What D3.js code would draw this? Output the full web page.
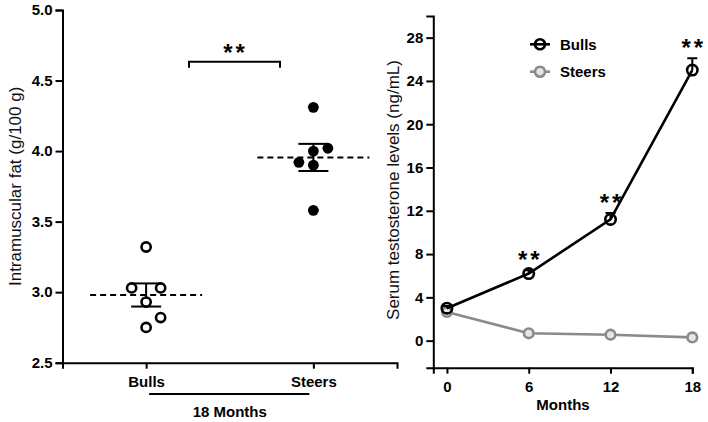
<!DOCTYPE html>
<html lang="en">
<head>
    <meta charset="utf-8">
    <title>Intramuscular fat and serum testosterone</title>
    <script src="https://d3js.org/d3.v7.min.js"></script>
    <style>
        body {
            margin: 0;
            background: #fff;
            font-family: "Liberation Sans", Arial, sans-serif;
        }
        .axis path, .axis line {
            stroke: #000;
            stroke-width: 2px;
        }
        .axis text {
            font-family: "Liberation Sans", Arial, sans-serif;
            font-size: 15px;
            font-weight: bold;
            fill: #000;
        }
        .title {
            font-size: 17px;
            fill: #111;
        }
        .bold {
            font-size: 15px;
            font-weight: bold;
        }
        .star {
            font-size: 24px;
            font-weight: bold;
            letter-spacing: 3px;
        }
    </style>
</head>
<body>
<svg width="708" height="422"></svg>
<script>
    // left panel: intramuscular fat at 18 months
    const groups = ["Bulls", "Steers"];
    const bullsFat = [3.32, 3.03, 3.03, 2.93, 2.82, 2.75];
    const steersFat = [4.31, 4.02, 4.00, 3.92, 3.90, 3.58];
    // horizontal spread of the dots (GraphPad style), in dot widths
    const bullsJitter = [0, -1, 1, 0, 1, 0];
    const steersJitter = [0, 1, 0, -1, 0, 0];
    const fatTicks = [2.5, 3.0, 3.5, 4.0, 4.5, 5.0];

    // right panel: serum testosterone
    const months = [0, 6, 12, 18];
    const bullsT = [3.0, 6.2, 11.2, 25.0];
    const bullsSem = [0.2, 0.3, 0.6, 1.1];
    const steersT = [2.65, 0.68, 0.55, 0.3];
    const tTicks = [0, 4, 8, 12, 16, 20, 24, 28];

    const grey = "#8a8a8a";
    const svg = d3.select("svg");

    // ---------- left panel ----------
    const xL = d3.scalePoint().domain(groups).range([62.5, 397]).padding(0.5);
    const yL = d3.scaleLinear().domain([2.5, 5.0]).range([362.7, 10]);

    svg.append("g").attr("class", "axis")
        .attr("transform", "translate(62.5,0)")
        .call(d3.axisLeft(yL).tickValues(fatTicks).tickFormat(d3.format(".1f"))
            .tickSizeOuter(0).tickSize(7).tickPadding(3));

    svg.append("g").attr("class", "axis")
        .attr("transform", "translate(0,362.7)")
        .call(d3.axisBottom(xL).tickSizeOuter(0).tickSize(6).tickPadding(4))
        .call(g => g.selectAll("text").attr("dy", "0.95em"));

    svg.append("text").attr("class", "title")
        .attr("transform", "translate(21," + yL(3.75) + ") rotate(-90)")
        .attr("text-anchor", "middle")
        .text("Intramuscular fat (g/100 g)");

    // "18 Months" bracket
    svg.append("line")
        .attr("x1", xL("Bulls") + 3).attr("x2", xL("Steers") - 4)
        .attr("y1", 394).attr("y2", 394)
        .attr("stroke", "#000").attr("stroke-width", 2);
    svg.append("text").attr("class", "bold")
        .attr("x", (xL("Bulls") + xL("Steers")) / 2).attr("y", 417)
        .attr("text-anchor", "middle")
        .text("18 Months");

    const spread = 14.5;
    const sets = [
        { name: "Bulls", values: bullsFat, jitter: bullsJitter, open: true },
        { name: "Steers", values: steersFat, jitter: steersJitter, open: false }
    ];

    sets.forEach(s => {
        const cx = xL(s.name);
        const m = d3.mean(s.values);
        const sem = d3.deviation(s.values) / Math.sqrt(s.values.length);

        // mean line
        svg.append("line")
            .attr("x1", cx - 56).attr("x2", cx + 56)
            .attr("y1", yL(m)).attr("y2", yL(m))
            .attr("stroke", "#000").attr("stroke-width", 2)
            .attr("stroke-dasharray", "6,4");

        // SEM whisker
        svg.append("line")
            .attr("x1", cx).attr("x2", cx)
            .attr("y1", yL(m + sem)).attr("y2", yL(m - sem))
            .attr("stroke", "#000").attr("stroke-width", 2);
        [m + sem, m - sem].forEach(v => {
            svg.append("line")
                .attr("x1", cx - 15).attr("x2", cx + 15)
                .attr("y1", yL(v)).attr("y2", yL(v))
                .attr("stroke", "#000").attr("stroke-width", 2);
        });

        svg.append("g").selectAll("circle")
            .data(s.values)
            .join("circle")
            .attr("cx", (d, i) => cx + s.jitter[i] * spread)
            .attr("cy", d => yL(d))
            .attr("r", s.open ? 4.6 : 5.4)
            .attr("fill", s.open ? "#fff" : "#000")
            .attr("stroke", "#000")
            .attr("stroke-width", s.open ? 2.6 : 0);
    });

    // significance bracket
    const bY = 61.7;
    svg.append("path")
        .attr("d", `M189,${bY + 6}V${bY}H280V${bY + 6}`)
        .attr("fill", "none").attr("stroke", "#000").attr("stroke-width", 2);
    svg.append("text").attr("class", "star")
        .attr("x", 235.5).attr("y", bY - 1)
        .attr("text-anchor", "middle")
        .text("**");

    // ---------- right panel ----------
    const xR = d3.scaleLinear().domain([-1, 18]).range([433.3, 692.3]);
    const yR = d3.scaleLinear().domain([-2.5, 30]).range([367.7, 16]);

    svg.append("g").attr("class", "axis")
        .attr("transform", "translate(433.3,0)")
        .call(d3.axisLeft(yR).tickValues(tTicks).tickSizeOuter(0).tickSize(7).tickPadding(3));

    svg.append("g").attr("class", "axis")
        .attr("transform", "translate(0,367.7)")
        .call(d3.axisBottom(xR).tickValues(months).tickSizeOuter(0).tickSize(6).tickPadding(4))
        .call(g => g.selectAll("text").attr("dy", "0.95em"));

    svg.append("text").attr("class", "title")
        .attr("transform", "translate(399,190) rotate(-90)")
        .attr("text-anchor", "middle")
        .text("Serum testosterone levels (ng/mL)");

    svg.append("text").attr("class", "bold")
        .attr("x", 563).attr("y", 410)
        .attr("text-anchor", "middle")
        .text("Months");

    const line = d3.line().x((d, i) => xR(months[i])).y(d => yR(d));

    // steers first, bulls on top
    svg.append("path").datum(steersT)
        .attr("d", line).attr("fill", "none")
        .attr("stroke", grey).attr("stroke-width", 2.6);
    svg.append("g").selectAll("circle")
        .data(steersT).join("circle")
        .attr("cx", (d, i) => xR(months[i])).attr("cy", d => yR(d))
        .attr("r", 4.8).attr("fill", "#e6e6e6")
        .attr("stroke", grey).attr("stroke-width", 2.6);

    // bulls SEM (upper only)
    svg.append("g").selectAll("path")
        .data(bullsT).join("path")
        .attr("d", (d, i) => {
            const x = xR(months[i]);
            const top = yR(d + bullsSem[i]);
            return `M${x},${yR(d)}V${top}M${x - 5},${top}H${x + 5}`;
        })
        .attr("fill", "none").attr("stroke", "#000").attr("stroke-width", 2);

    svg.append("path").datum(bullsT)
        .attr("d", line).attr("fill", "none")
        .attr("stroke", "#000").attr("stroke-width", 2.6);
    svg.append("g").selectAll("circle")
        .data(bullsT).join("circle")
        .attr("cx", (d, i) => xR(months[i])).attr("cy", d => yR(d))
        .attr("r", 5.2).attr("fill", "none")
        .attr("stroke", "#000").attr("stroke-width", 2.6);

    // significance stars over months 6, 12, 18
    svg.append("g").selectAll("text")
        .data(months.slice(1)).join("text")
        .attr("class", "star")
        .attr("x", d => xR(d) + 1.5)
        .attr("y", d => {
            const i = months.indexOf(d);
            return yR(bullsT[i] + bullsSem[i]) - 2;
        })
        .attr("text-anchor", "middle")
        .text("**");

    // legend
    const legend = [
        { label: "Bulls", color: "#000", fill: "none" },
        { label: "Steers", color: grey, fill: "#e6e6e6" }
    ];
    const lg = svg.append("g").selectAll("g")
        .data(legend).join("g")
        .attr("transform", (d, i) => `translate(540,${44.3 + i * 27.4})`);
    lg.append("line")
        .attr("x1", -10).attr("x2", 10)
        .attr("stroke", d => d.color).attr("stroke-width", 2.6);
    lg.append("circle")
        .attr("r", 5).attr("fill", d => d.fill)
        .attr("stroke", d => d.color).attr("stroke-width", 2.6);
    lg.append("text").attr("class", "bold")
        .attr("x", 20).attr("dy", "0.36em")
        .text(d => d.label);
</script>
</body>
</html>
